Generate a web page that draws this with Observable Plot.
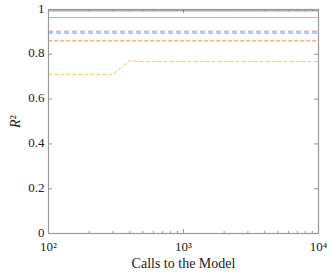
<!DOCTYPE html>
<html>
<head>
<meta charset="utf-8">
<script src="https://cdn.jsdelivr.net/npm/d3@7"></script>
<script src="https://cdn.jsdelivr.net/npm/@observablehq/plot@0.6"></script>
<style>
body { margin: 0; background: #fff; }
svg { font-family: "Liberation Serif", "DejaVu Serif", serif; }
</style>
</head>
<body>
<div id="chart"></div>
<script>
// Series data (x = calls to the model, y = R²)
const xRange = [100, 10000];
const dottedTop = [0.994, 0.994];
const purpleSolid = [0.964, 0.964];
const pinkDashed = [0.903, 0.903];
const blueDashed = [0.895, 0.895];
const orangeDashed = [0.860, 0.860];
const yellowX = [100, 300, 400, 500, 10000];
const yellowY = [0.711, 0.711, 0.771, 0.767, 0.767];

const yTicks = [0, 0.2, 0.4, 0.6, 0.8, 1];
const yTickLabels = ["0", "0.2", "0.4", "0.6", "0.8", "1"];
const xMajor = [100, 1000, 10000];
const xMajorLabels = ["10²", "10³", "10⁴"];
const xMinor = [200, 300, 400, 500, 600, 700, 800, 900, 2000, 3000, 4000, 5000, 6000, 7000, 8000, 9000];

const flat = (ys) => xRange.map((x, i) => ({x, y: ys[i]}));
const yellow = yellowX.map((x, i) => ({x, y: yellowY[i]}));
const yLab = new Map(yTicks.map((v, i) => [v, yTickLabels[i]]));
const xLab = new Map(xMajor.map((v, i) => [v, xMajorLabels[i]]));

const axisColor = "#999";

const plot = Plot.plot({
  width: 333,
  height: 273,
  marginLeft: 48,
  marginRight: 15,
  marginTop: 9,
  marginBottom: 40,
  style: {fontFamily: "'Liberation Serif', 'DejaVu Serif', serif", fontSize: "13px", color: "#222"},
  x: {type: "log", domain: xRange},
  y: {domain: [0, 1]},
  marks: [
    // inward ticks
    Plot.ruleY(yTicks, {y: d => d, x1: 100, x2: 100 * Math.pow(10, 0.03), stroke: axisColor}),
    Plot.ruleY(yTicks, {y: d => d, x1: 10000, x2: 10000 / Math.pow(10, 0.03), stroke: axisColor}),
    Plot.ruleX(xMajor, {x: d => d, y1: 0, y2: 0.018, stroke: axisColor}),
    Plot.ruleX(xMinor, {x: d => d, y1: 0, y2: 0.009, stroke: axisColor}),
    Plot.ruleX(xMajor, {x: d => d, y1: 1, y2: 1 - 0.018, stroke: axisColor}),
    Plot.ruleX(xMinor, {x: d => d, y1: 1, y2: 1 - 0.009, stroke: axisColor}),
    // series
    Plot.line(yellow, {x: "x", y: "y", stroke: "#f8c75c", strokeWidth: 1, strokeDasharray: "3.5,2.5"}),
    Plot.line(flat(orangeDashed), {x: "x", y: "y", stroke: "#f7a266", strokeWidth: 1.1, strokeDasharray: "3.5,2.5"}),
    Plot.line(flat(blueDashed), {x: "x", y: "y", stroke: "#9fb4f6", strokeWidth: 1.6, strokeDasharray: "4,4"}),
    Plot.line(flat(pinkDashed), {x: "x", y: "y", stroke: "#e9a6dc", strokeWidth: 1.6, strokeDasharray: "4,4"}),
    Plot.line(flat(purpleSolid), {x: "x", y: "y", stroke: "#b3a8f2", strokeWidth: 1}),
    Plot.line(flat(dottedTop), {x: "x", y: "y", stroke: "#555", strokeWidth: 0.8, strokeDasharray: "1,1"}),
    Plot.frame({stroke: axisColor, strokeWidth: 1.2}),
    Plot.axisY(yTicks, {tickSize: 0, tickPadding: 4, dy: -1, tickFormat: d => yLab.get(d), fontSize: 13, label: "R²", labelAnchor: "center", labelArrow: "none", labelOffset: 38}),
    Plot.axisX(xMajor, {tickSize: 0, tickPadding: 8, tickFormat: d => xLab.get(d), fontSize: 13, label: "Calls to the Model", labelAnchor: "center", labelArrow: "none", labelOffset: 34})
  ]
});
document.getElementById("chart").appendChild(plot);
// italic R in y label, larger axis-label fonts
plot.querySelectorAll("text").forEach(t => {
  if (t.textContent === "R²") {
    t.textContent = "";
    t.setAttribute("font-size", "14");
    const ns = "http://www.w3.org/2000/svg";
    const a = document.createElementNS(ns, "tspan");
    a.setAttribute("font-style", "italic");
    a.textContent = "R";
    const b = document.createElementNS(ns, "tspan");
    b.textContent = "²";
    t.appendChild(a); t.appendChild(b);
  } else if (t.textContent === "Calls to the Model") {
    t.setAttribute("font-size", "14");
  }
});
</script>
</body>
</html>
